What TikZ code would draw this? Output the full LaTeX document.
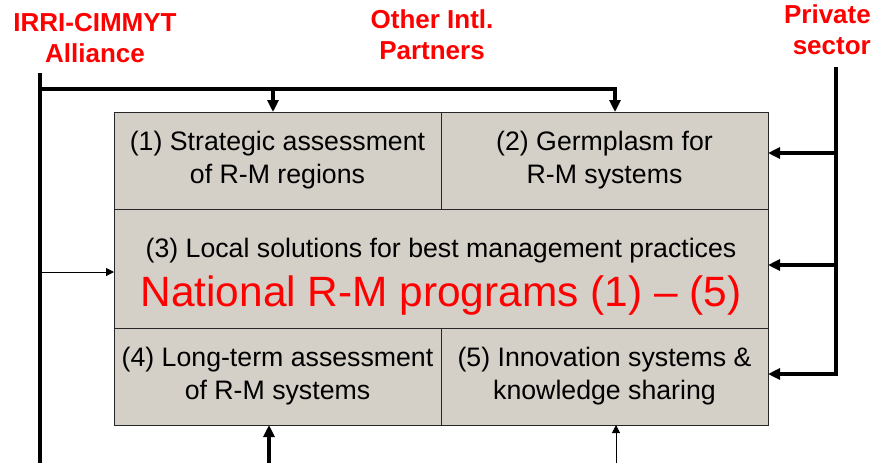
\documentclass[tikz,border=0pt]{standalone}
\usepackage{fontspec}
\setmainfont{Liberation Sans}
\usepackage{tikz}
\usetikzlibrary{positioning, arrows.meta}
\definecolor{cellgray}{RGB}{212,208,200}
\tikzstyle{cell} = [rectangle, minimum width=327pt, minimum height=97pt, inner sep=0pt, outer sep=0pt, text centered, align=center, draw=black!85, line width=1pt, fill=cellgray, font=\fontsize{26.7}{33}\selectfont]
\tikzstyle{wide} = [cell, minimum width=654pt, minimum height=119pt]
\tikzstyle{partner} = [text=red, font=\bfseries\fontsize{26}{31}\selectfont, inner sep=0pt]
\tikzstyle{link} = [line width=3.5pt]
\tikzstyle{arrow} = [line width=3.5pt, line join=miter, -{Triangle[length=12pt,width=11pt]}]
\tikzstyle{thinarrow} = [line width=1pt, -{Triangle[length=8pt,width=8pt]}]

\begin{document}
\begin{tikzpicture}[x=1pt, y=-1pt]
\useasboundingbox (0,0) rectangle (874,463);

\node (box1) [cell, anchor=north west] at (114,112) {(1) Strategic assessment\\of R-M regions};
\node (box2) [cell, right=0pt of box1] {(2) Germplasm for\\R-M systems};
\node (box3) [wide, anchor=north west] at (box1.south west) {};
\node (box4) [cell, anchor=north west] at (box3.south west) {(4) Long-term assessment\\of R-M systems};
\node (box5) [cell, right=0pt of box4] {(5) Innovation systems \&\\knowledge sharing};

\node (local) [anchor=base, font=\fontsize{26.7}{33}\selectfont] at (441,257) {(3) Local solutions for best management practices};
\node (natl) [anchor=base, text=red, font=\fontsize{42.4}{50}\selectfont] at (441,306) {National R-M programs (1) -- (5)};

\node (irri) [partner, align=center] at (95,38) {IRRI-CIMMYT\\Alliance};
\node (other) [partner, align=center] at (432,35) {Other Intl.\\Partners};
\node (private) [partner, align=right, anchor=east] at (871,30) {Private\\sector};

\coordinate (irritop) at (40,73);
\coordinate (irribot) at (40,463);
\coordinate (split) at (40,89);
\coordinate (drop1) at (273,89);
\coordinate (drop2) at (615,89);
\coordinate (privtop) at (836,67);
\coordinate (privbot) at (836,374);
\coordinate (tap2) at (836,153);
\coordinate (tap3) at (836,265);
\coordinate (side3) at (40,272);
\coordinate (foot4) at (269,463);
\coordinate (foot5) at (616,463);

\draw [link] (irritop) -- (irribot);
\draw [arrow] (split) -- (drop2) -- (drop2 |- box2.north);
\draw [arrow] (drop1) -- (drop1 |- box1.north);
\draw [thinarrow] (side3) -- (side3 -| box3.west);

\draw [arrow] (privtop) -- (privbot) -- (privbot -| box5.east);
\draw [arrow] (tap2) -- (tap2 -| box2.east);
\draw [arrow] (tap3) -- (tap3 -| box3.east);

\draw [arrow] (foot4) -- (foot4 |- box4.south);
\draw [thinarrow] (foot5) -- (foot5 |- box5.south); % thin one
\end{tikzpicture}
\end{document}
